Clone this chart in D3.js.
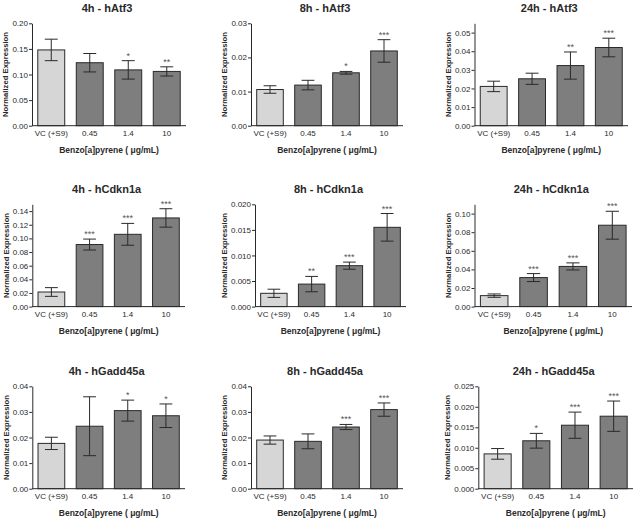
<!DOCTYPE html>
<html>
<head>
<meta charset="utf-8">
<script src="https://cdn.jsdelivr.net/npm/d3@7/dist/d3.min.js"></script>
<style>
  html, body { margin: 0; padding: 0; background: #ffffff; }
  svg { display: block; }
</style>
</head>
<body>
<svg id="chart" width="635" height="519"></svg>
<script>
// ---------------- DATA ----------------
const categories = ["VC (+S9)", "0.45", "1.4", "10"];
const panelTitles = [
  "4h - hAtf3", "8h - hAtf3", "24h - hAtf3",
  "4h - hCdkn1a", "8h - hCdkn1a", "24h - hCdkn1a",
  "4h - hGadd45a", "8h - hGadd45a", "24h - hGadd45a"
];
const means = [
  [0.148, 0.123, 0.109, 0.106],
  [0.0106, 0.0119, 0.0155, 0.0219],
  [0.0211, 0.0252, 0.0323, 0.0420],
  [0.0214, 0.0910, 0.1060, 0.1300],
  [0.0026, 0.0044, 0.0080, 0.0155],
  [0.0118, 0.0312, 0.0432, 0.0875],
  [0.0177, 0.0244, 0.0305, 0.0285],
  [0.0190, 0.0185, 0.0241, 0.0309],
  [0.0085, 0.0117, 0.0155, 0.0177]
];
const errors = [
  [0.021, 0.018, 0.018, 0.009],
  [0.0011, 0.0014, 0.0004, 0.0033],
  [0.0028, 0.0030, 0.0073, 0.0050],
  [0.0064, 0.0080, 0.0160, 0.0135],
  [0.0008, 0.0015, 0.0007, 0.0027],
  [0.0018, 0.0043, 0.0038, 0.0150],
  [0.0024, 0.0115, 0.0041, 0.0046],
  [0.0016, 0.0029, 0.0010, 0.0026],
  [0.0013, 0.0018, 0.0032, 0.0037]
];
const stars = [
  ["", "", "*", "**"],
  ["", "", "*", "***"],
  ["", "", "**", "***"],
  ["", "***", "***", "***"],
  ["", "**", "***", "***"],
  ["", "***", "***", "***"],
  ["", "", "*", "*"],
  ["", "", "***", "***"],
  ["", "*", "***", "***"]
];
const yMax = [0.20, 0.03, 0.055, 0.15, 0.020, 0.11, 0.04, 0.04, 0.025];
const yTicks = [
  [0, 0.05, 0.10, 0.15, 0.20],
  [0, 0.01, 0.02, 0.03],
  [0, 0.01, 0.02, 0.03, 0.04, 0.05],
  [0, 0.02, 0.04, 0.06, 0.08, 0.10, 0.12, 0.14],
  [0, 0.005, 0.010, 0.015, 0.020],
  [0, 0.02, 0.04, 0.06, 0.08, 0.10],
  [0, 0.01, 0.02, 0.03, 0.04],
  [0, 0.01, 0.02, 0.03, 0.04],
  [0, 0.005, 0.010, 0.015, 0.020, 0.025]
];
const yTickDecimals = [2, 2, 2, 2, 3, 2, 2, 2, 3];
const yAxisTitle = "Normalized Expression";
const xAxisTitle = "Benzo[a]pyrene ( \u03bcg/mL)";

// ---------------- LAYOUT ----------------
const plotLeft  = [32, 251, 474.5, 32.3, 255, 474.5, 32.3, 251, 478.3];
const plotRight = [186, 403, 628, 185, 406, 632, 185, 403, 633];
const rowTop    = [23.3, 204.3, 386.3];
const rowBottom = [125.7, 306.6, 488.7];

const ink = "#2a2a2a";
const vcFill = "#d6d6d6";
const trtFill = "#7e7e7e";
const fontFam = "Liberation Sans, Arial, Helvetica, sans-serif";

const svg = d3.select("#chart");

panelTitles.forEach((title, p) => {
  const row = Math.floor(p / 3);
  const x0 = plotLeft[p], x1 = plotRight[p];
  const yTop = rowTop[row], yBot = rowBottom[row];

  const x = d3.scaleBand().domain(categories).range([x0, x1])
    .paddingInner(0.3).paddingOuter(0.15);
  const y = d3.scaleLinear().domain([0, yMax[p]]).range([yBot, yTop]);

  const g = svg.append("g");
  const rows = categories.map((c, i) => ({ c, m: means[p][i], e: errors[p][i], s: stars[p][i], i }));

  // bars
  g.selectAll("rect.bar").data(rows).enter().append("rect")
    .attr("class", "bar")
    .attr("x", d => x(d.c))
    .attr("y", d => y(d.m))
    .attr("width", x.bandwidth())
    .attr("height", d => y(0) - y(d.m))
    .attr("fill", d => d.i === 0 ? vcFill : trtFill)
    .attr("stroke", ink)
    .attr("stroke-width", 1);

  // error bars
  const capHalf = x.bandwidth() * 0.24;
  const eb = g.selectAll("g.err").data(rows).enter().append("g").attr("class", "err")
    .attr("stroke", ink).attr("stroke-width", 1).attr("fill", "none");
  eb.append("line")
    .attr("x1", d => x(d.c) + x.bandwidth() / 2).attr("x2", d => x(d.c) + x.bandwidth() / 2)
    .attr("y1", d => y(d.m + d.e)).attr("y2", d => y(d.m - d.e));
  eb.append("line")
    .attr("x1", d => x(d.c) + x.bandwidth() / 2 - capHalf).attr("x2", d => x(d.c) + x.bandwidth() / 2 + capHalf)
    .attr("y1", d => y(d.m + d.e)).attr("y2", d => y(d.m + d.e));
  eb.append("line")
    .attr("x1", d => x(d.c) + x.bandwidth() / 2 - capHalf).attr("x2", d => x(d.c) + x.bandwidth() / 2 + capHalf)
    .attr("y1", d => y(d.m - d.e)).attr("y2", d => y(d.m - d.e));

  // significance stars
  g.selectAll("text.star").data(rows.filter(d => d.s)).enter().append("text")
    .attr("class", "star")
    .attr("x", d => x(d.c) + x.bandwidth() / 2)
    .attr("y", d => y(d.m + d.e) - 2)
    .attr("text-anchor", "middle")
    .attr("font-family", fontFam)
    .attr("font-size", "9px")
    .attr("fill", "#555")
    .text(d => d.s);

  // y axis
  const yAxis = d3.axisLeft(y).tickValues(yTicks[p])
    .tickFormat(d3.format("." + yTickDecimals[p] + "f"))
    .tickSize(3).tickSizeOuter(0).tickPadding(1);
  const ya = g.append("g").attr("transform", `translate(${x0},0)`).call(yAxis);
  ya.selectAll("path, line").attr("stroke", ink);
  ya.selectAll("text").attr("font-family", fontFam).attr("font-size", "8px").attr("fill", ink);

  // x axis
  const xAxis = d3.axisBottom(x).tickSize(0).tickSizeOuter(0).tickPadding(5);
  const xa = g.append("g").attr("transform", `translate(0,${yBot})`).call(xAxis);
  xa.select(".domain").attr("d", `M${x0},0H${x1}`).attr("stroke", ink);
  xa.selectAll("text").attr("font-family", fontFam).attr("font-size", "8px").attr("fill", ink);

  const cx = (x0 + x1) / 2;
  // title
  g.append("text")
    .attr("x", cx - 2).attr("y", yTop - 11)
    .attr("text-anchor", "middle")
    .attr("font-family", fontFam).attr("font-weight", "bold").attr("font-size", "11px")
    .attr("fill", ink)
    .text(title);

  // x axis title
  g.append("text")
    .attr("x", cx).attr("y", yBot + 27)
    .attr("text-anchor", "middle")
    .attr("font-family", fontFam).attr("font-weight", "bold").attr("font-size", "8.5px")
    .attr("fill", ink)
    .text(xAxisTitle);

  // y axis title: placed just left of the widest tick label
  const labelLeft = ya.node().getBBox().x + x0;
  g.append("text")
    .attr("transform", `translate(${labelLeft - 4},${(yTop + yBot) / 2}) rotate(-90)`)
    .attr("text-anchor", "middle")
    .attr("font-family", fontFam).attr("font-weight", "bold").attr("font-size", "7.7px")
    .attr("fill", ink)
    .text(yAxisTitle);
});
</script>
</body>
</html>
